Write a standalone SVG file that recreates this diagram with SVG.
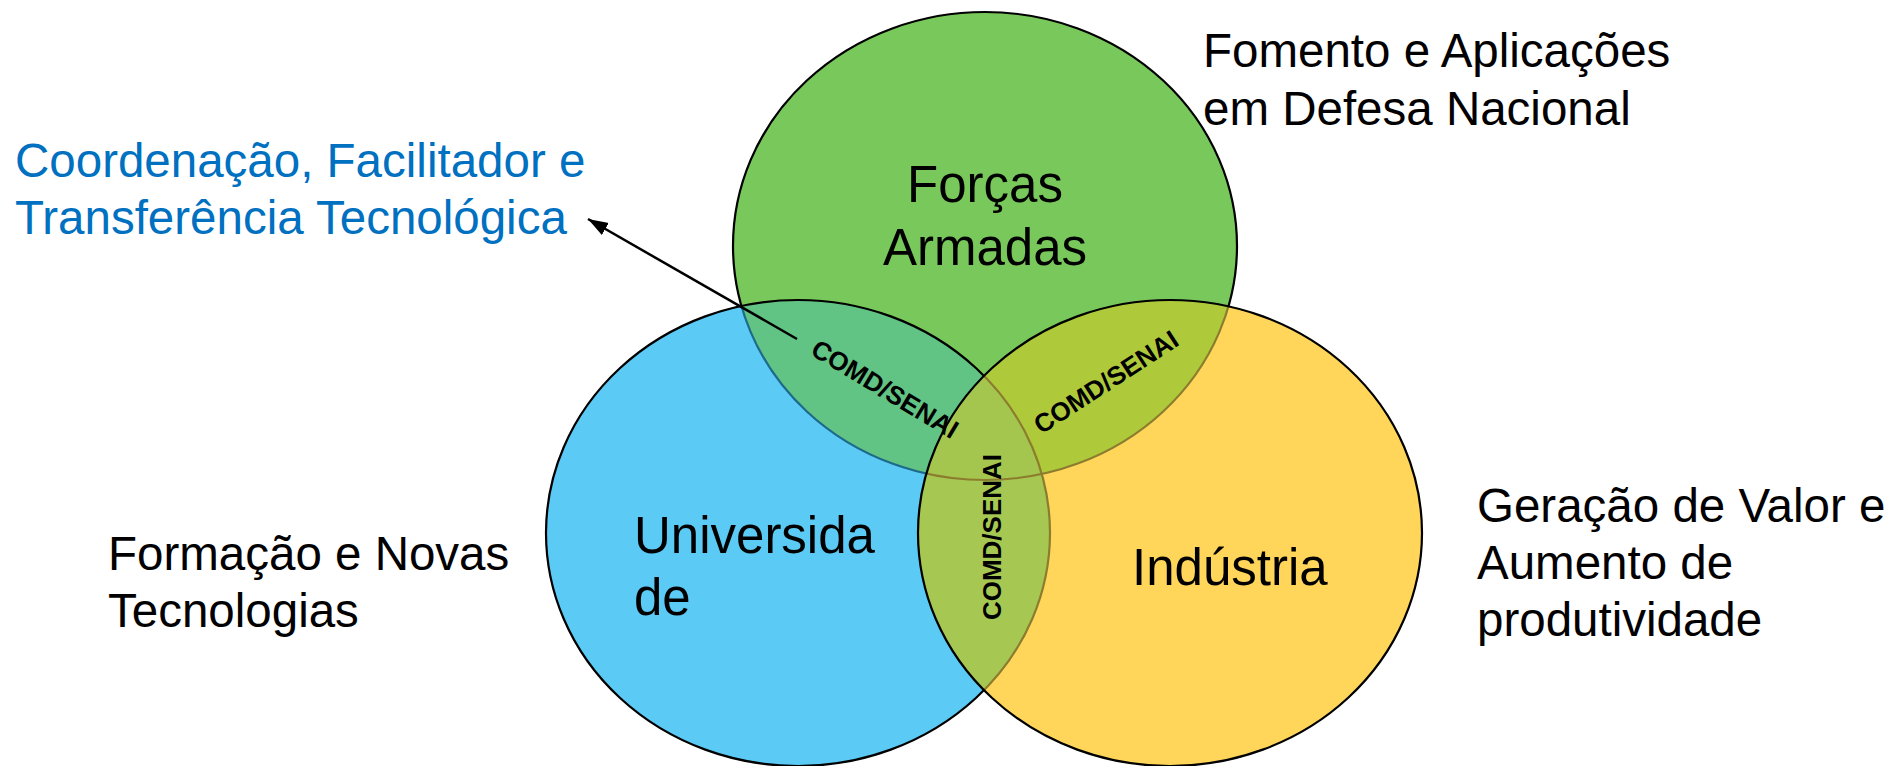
<svg xmlns="http://www.w3.org/2000/svg" width="1896" height="766" viewBox="0 0 1896 766">
<style>
text{font-family:"Liberation Sans",Arial,sans-serif;fill:#000}
.main{font-size:51px}
.side{font-size:47.5px}
.blue{fill:#0070C0}
.lbl{font-size:26px;font-weight:bold;text-anchor:middle}
.ol{fill:none;stroke-width:2.2}
</style>
<defs>
<clipPath id="cG"><ellipse cx="985" cy="246" rx="252" ry="234"/></clipPath>
<clipPath id="cB"><ellipse cx="798" cy="533" rx="252" ry="233"/></clipPath>
<clipPath id="cY"><ellipse cx="1170" cy="533" rx="252" ry="233"/></clipPath>
<mask id="mNotBY" maskUnits="userSpaceOnUse" x="0" y="0" width="1896" height="766">
<rect width="1896" height="766" fill="#fff"/>
<ellipse cx="798" cy="533" rx="252" ry="233" fill="#000"/>
<ellipse cx="1170" cy="533" rx="252" ry="233" fill="#000"/>
</mask>
<mask id="mNotY" maskUnits="userSpaceOnUse" x="0" y="0" width="1896" height="766">
<rect width="1896" height="766" fill="#fff"/>
<ellipse cx="1170" cy="533" rx="252" ry="233" fill="#000"/>
</mask>
<marker id="ah" markerUnits="userSpaceOnUse" markerWidth="22" markerHeight="16" refX="20" refY="7" orient="auto">
<path d="M0,0 L20,7 L0,14 z" fill="#000"/>
</marker>
</defs>
<rect width="1896" height="766" fill="#fff"/>

<g id="forcas-armadas">
<ellipse cx="985" cy="246" rx="252" ry="234" fill="#78C85B"/>
</g>
<g id="universidade">
<ellipse cx="798" cy="533" rx="252" ry="233" fill="#5BCAF5"/>
</g>
<g id="industria">
<ellipse cx="1170" cy="533" rx="252" ry="233" fill="#FFD55A"/>
</g>

<g id="overlaps">
<g id="overlap-fa-univ">
<ellipse cx="985" cy="246" rx="252" ry="234" fill="#62C484" clip-path="url(#cB)"/>
</g>
<g id="overlap-fa-ind">
<ellipse cx="985" cy="246" rx="252" ry="234" fill="#AECA3B" clip-path="url(#cY)"/>
</g>
<g id="overlap-univ-ind">
<ellipse cx="798" cy="533" rx="252" ry="233" fill="#A6C852" clip-path="url(#cY)"/>
<g clip-path="url(#cB)"><ellipse cx="985" cy="246" rx="252" ry="234" fill="#A4C64E" clip-path="url(#cY)"/></g>
</g>
</g>

<g id="outlines">
<ellipse class="ol" cx="985" cy="246" rx="252" ry="234" stroke="#000" mask="url(#mNotBY)"/>
<g mask="url(#mNotY)"><ellipse class="ol" cx="985" cy="246" rx="252" ry="234" stroke="#1E6A8A" stroke-width="1.8" clip-path="url(#cB)"/></g>
<ellipse class="ol" cx="985" cy="246" rx="252" ry="234" stroke="#8C7D2E" stroke-width="1.6" clip-path="url(#cY)"/>
<ellipse class="ol" cx="798" cy="533" rx="252" ry="233" stroke="#000" mask="url(#mNotY)"/>
<ellipse class="ol" cx="798" cy="533" rx="252" ry="233" stroke="#8C7D2E" stroke-width="1.6" clip-path="url(#cY)"/>
<ellipse class="ol" cx="1170" cy="533" rx="252" ry="233" stroke="#000"/>
</g>

<g id="labels-main">
<text class="main" x="985" y="202" text-anchor="middle">Forças</text>
<text class="main" x="985" y="265" text-anchor="middle">Armadas</text>
<text class="main" x="634" y="553">Universida</text>
<text class="main" x="634" y="615">de</text>
<text class="main" x="1132" y="585">Indústria</text>
</g>

<g id="labels-overlap">
<text class="lbl" transform="translate(885,389) rotate(31)" x="0" y="9">COMD/SENAI</text>
<text class="lbl" transform="translate(1106,382) rotate(-33)" x="0" y="9">COMD/SENAI</text>
<text class="lbl" transform="translate(992,537) rotate(-90)" x="0" y="9">COMD/SENAI</text>
</g>

<g id="annotations">
<g id="note-fa">
<text class="side" x="1203" y="67">Fomento e Aplicações</text>
<text class="side" x="1203" y="125">em Defesa Nacional</text>
</g>
<g id="note-coord">
<text class="side blue" x="15" y="177">Coordenação, Facilitador e</text>
<text class="side blue" x="15" y="234">Transferência Tecnológica</text>
</g>
<g id="note-univ">
<text class="side" x="108" y="570">Formação e Novas</text>
<text class="side" x="108" y="627">Tecnologias</text>
</g>
<g id="note-ind">
<text class="side" x="1477" y="522">Geração de Valor e</text>
<text class="side" x="1477" y="579">Aumento de</text>
<text class="side" x="1477" y="636">produtividade</text>
</g>
</g>

<g id="connectors">
<line x1="797" y1="339" x2="588" y2="219" stroke="#000" stroke-width="2.5" marker-end="url(#ah)"/>
</g>
</svg>
